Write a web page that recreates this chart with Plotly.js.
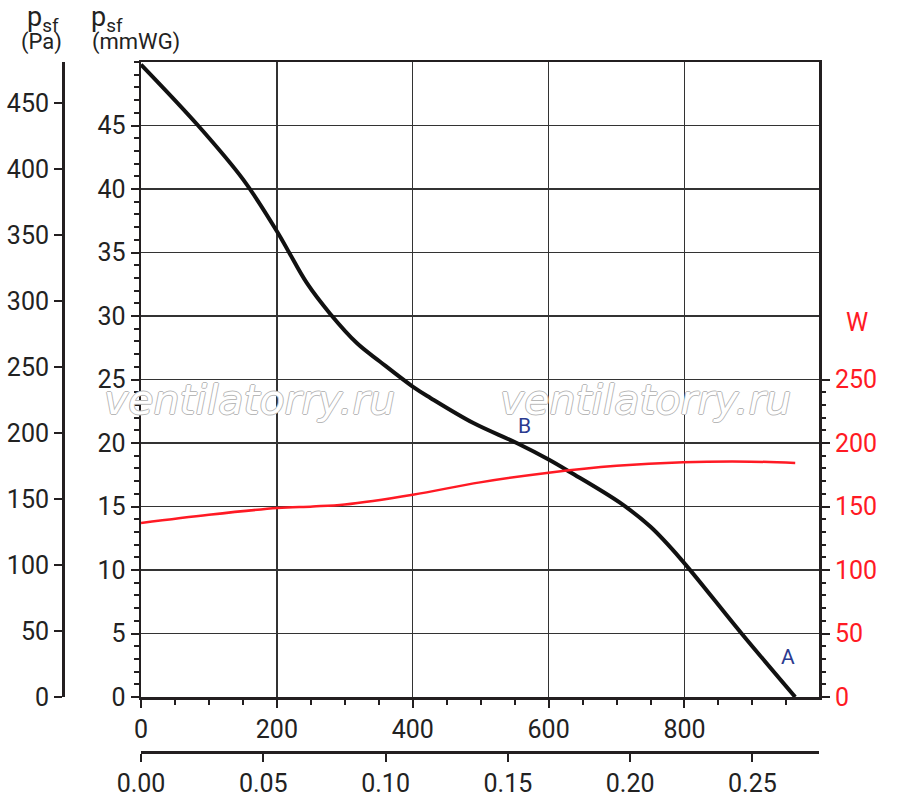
<!DOCTYPE html>
<html>
<head>
<meta charset="utf-8">
<script src="https://cdn.plot.ly/plotly-3.0.1.min.js"></script>
<style>
  html, body { margin: 0; padding: 0; background: #fff; }
  #chart { width: 900px; height: 799px; }
</style>
</head>
<body>
<div id="chart"></div>
<script>
// pressure curve, flow in m3/h, pressure in mmWG
var flowP = [0, 84, 151, 202, 219, 244, 278, 318, 352, 401, 426, 490, 553, 600, 632, 705, 750, 794, 884, 963];
var pressure = [49.8, 45.0, 40.7, 36.5, 34.9, 32.6, 30.2, 27.85, 26.4, 24.4, 23.55, 21.55, 20.0, 18.7, 17.7, 15.3, 13.4, 10.9, 5.0, 0];

// power curve, W
var flowW = [0, 100, 201, 253, 300, 400, 499, 600, 700, 798, 897, 963];
var power = [137, 143.5, 148.8, 150, 151.6, 159.3, 169, 176.6, 182, 184.8, 185.3, 184.3];

var paTicks = [0, 50, 100, 150, 200, 250, 300, 350, 400, 450];
var wTicks = [0, 50, 100, 150, 200, 250];
var wMinor = [];
for (var i = 0; i <= 250; i += 10) wMinor.push(i);

var flowMax = 998;
var tickFont = { family: 'Roboto, sans-serif', size: 25, color: '#222' };
var ink = '#231f20';

var flowS = flowP.map(function (v) { return v / 3600; });

var traces = [
    {
        x: flowP, y: pressure, xaxis: 'x', yaxis: 'y',
        mode: 'lines', line: { color: '#111', width: 4, shape: 'spline', smoothing: 1 },
        hoverinfo: 'skip', showlegend: false
    },
    {
        x: flowW, y: power, xaxis: 'x', yaxis: 'y2',
        mode: 'lines', line: { color: '#ff1a24', width: 2.5, shape: 'spline', smoothing: 1 },
        hoverinfo: 'skip', showlegend: false
    },
    {
        // keeps the m3/s axis alive
        x: flowS, y: pressure, xaxis: 'x2', yaxis: 'y',
        mode: 'lines', line: { width: 0 }, opacity: 0,
        hoverinfo: 'skip', showlegend: false
    },
    {
        // keeps the Pa axis alive
        x: [0], y: [0], xaxis: 'x', yaxis: 'y3',
        mode: 'markers', marker: { size: 1, opacity: 0 },
        hoverinfo: 'skip', showlegend: false
    }
];

var wmFont = {
    family: 'DejaVu Sans, sans-serif', size: 41, style: 'italic', color: '#ffffff',
    shadow: '1px 0 0 #b8b8b8, -1px 0 0 #b8b8b8, 0 1px 0 #b8b8b8, 0 -1px 0 #b8b8b8'
};

var layout = {
    width: 900,
    height: 799,
    margin: { l: 63, r: 81, t: 62, b: 47 },
    paper_bgcolor: '#fff',
    plot_bgcolor: 'rgba(0,0,0,0)',
    showlegend: false,
    xaxis: {
        domain: [0.1032, 1],
        range: [0, flowMax],
        anchor: 'y',
        tickvals: [0, 200, 400, 600, 800],
        ticks: 'outside', ticklen: 8, tickwidth: 2, tickcolor: ink,
        minor: { dtick: 50, ticks: 'outside', ticklen: 5, tickwidth: 2, tickcolor: ink, showgrid: false },
        showgrid: true, gridcolor: '#333', gridwidth: 1.3,
        showline: true, linecolor: ink, linewidth: 2.5, mirror: true,
        zeroline: false,
        tickfont: tickFont
    },
    xaxis2: {
        overlaying: 'x',
        anchor: 'free', position: 0,
        side: 'bottom',
        range: [0, flowMax / 3600],
        tickvals: [0, 0.05, 0.1, 0.15, 0.2, 0.25],
        ticktext: ['0.00', '0.05', '0.10', '0.15', '0.20', '0.25'],
        ticks: 'outside', ticklen: 8, tickwidth: 2, tickcolor: ink,
        showgrid: false, zeroline: false,
        showline: true, linecolor: ink, linewidth: 2.5,
        tickfont: tickFont
    },
    yaxis: {
        domain: [0.0797, 1],
        range: [0, 50],
        anchor: 'x',
        tickvals: [0, 5, 10, 15, 20, 25, 30, 35, 40, 45],
        ticks: 'outside', ticklen: 8, tickwidth: 2, tickcolor: ink,
        minor: { dtick: 1, ticks: 'outside', ticklen: 5, tickwidth: 2, tickcolor: ink, showgrid: false },
        showgrid: true, gridcolor: '#333', gridwidth: 1.3,
        showline: true, linecolor: ink, linewidth: 2.5, mirror: true,
        zeroline: false,
        tickfont: tickFont
    },
    yaxis2: {
        overlaying: 'y',
        anchor: 'x',
        side: 'right',
        range: [0, 500],
        tickvals: wTicks,
        ticks: 'outside', ticklen: 10, tickwidth: 2, tickcolor: ink,
        minor: { tickmode: 'array', tickvals: wMinor, ticks: 'outside', ticklen: 6, tickwidth: 2, tickcolor: ink, showgrid: false },
        showgrid: false, zeroline: false, showline: false,
        tickfont: { family: 'Roboto, sans-serif', size: 25, color: '#ff1a24' }
    },
    yaxis3: {
        overlaying: 'y',
        anchor: 'free', position: 0,
        side: 'left',
        range: [0, 481],
        tickvals: paTicks,
        ticks: 'outside', ticklen: 8, tickwidth: 2, tickcolor: ink,
        showgrid: false, zeroline: false,
        showline: true, linecolor: ink, linewidth: 2.5,
        tickfont: tickFont
    },
    annotations: [
        { xref: 'paper', yref: 'paper', x: -0.05, y: 1.063, xanchor: 'left', yanchor: 'middle',
          text: 'p<sub>sf</sub>', showarrow: false, font: { family: 'Roboto, sans-serif', size: 27, color: '#222' } },
        { xref: 'paper', yref: 'paper', x: -0.028, y: 1.029, xanchor: 'center', yanchor: 'middle',
          text: '(Pa)', showarrow: false, font: { family: 'Roboto, sans-serif', size: 22, color: '#222' } },
        { xref: 'paper', yref: 'paper', x: 0.035, y: 1.063, xanchor: 'left', yanchor: 'middle',
          text: 'p<sub>sf</sub>', showarrow: false, font: { family: 'Roboto, sans-serif', size: 27, color: '#222' } },
        { xref: 'paper', yref: 'paper', x: 0.096, y: 1.029, xanchor: 'center', yanchor: 'middle',
          text: '(mmWG)', showarrow: false, font: { family: 'Roboto, sans-serif', size: 22, color: '#222' } },
        { xref: 'paper', yref: 'paper', x: 1.05, y: 0.623, xanchor: 'center', yanchor: 'middle',
          text: 'W', showarrow: false, font: { family: 'Roboto, sans-serif', size: 25, color: '#ff1a24' } },
        { xref: 'x', yref: 'y', x: 565, y: 21.3, text: 'B', showarrow: false,
          font: { family: 'Roboto, sans-serif', size: 21, color: '#2b3a8f' } },
        { xref: 'x', yref: 'y', x: 953, y: 3.15, text: 'A', showarrow: false,
          font: { family: 'Roboto, sans-serif', size: 21, color: '#2b3a8f' } },
        { xref: 'x', yref: 'y', x: 159, y: 23.4, text: 'ventilatorry.ru', showarrow: false, font: wmFont },
        { xref: 'x', yref: 'y', x: 743, y: 23.4, text: 'ventilatorry.ru', showarrow: false, font: wmFont }
    ]
};

Plotly.newPlot('chart', traces, layout, { staticPlot: true, displayModeBar: false });
</script>
</body>
</html>
